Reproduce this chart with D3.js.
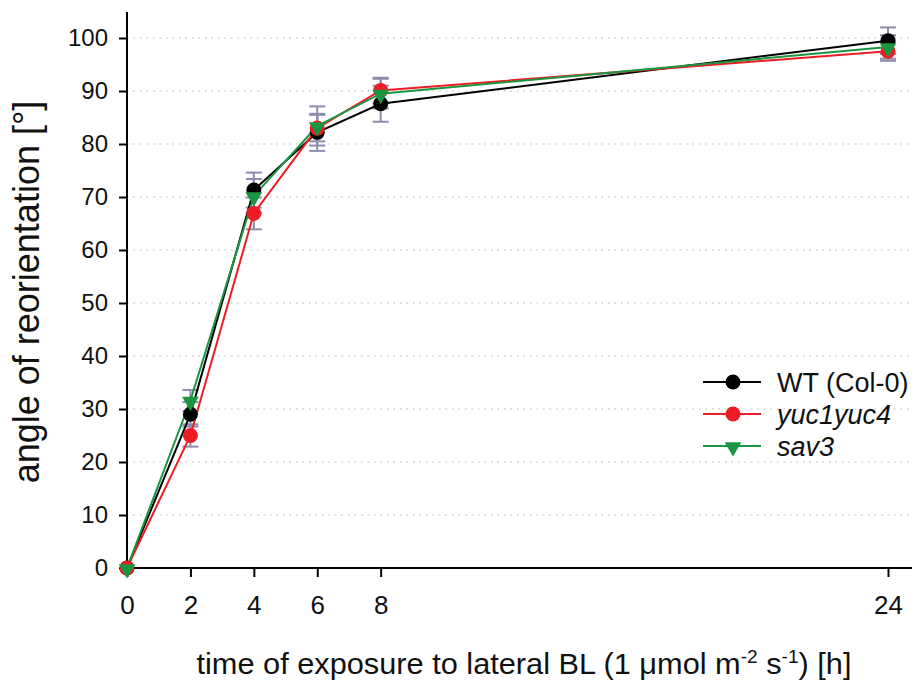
<!DOCTYPE html>
<html>
<head>
<meta charset="utf-8">
<script src="https://cdn.jsdelivr.net/npm/d3@7"></script>
<style>
  body { margin: 0; background: #fff; }
  text { font-family: "Liberation Sans", Arial, sans-serif; }
</style>
</head>
<body>
<div id="chart"></div>
<script>
// time points (h) and tick labels
const hours = [0, 2, 4, 6, 8, 24];
const xTicks = [0, 2, 4, 6, 8, 24];
const yTicks = [0, 10, 20, 30, 40, 50, 60, 70, 80, 90, 100];

// mean angle of reorientation
const wtValues = [0, 29.0, 71.3, 82.2, 87.6, 99.5];
const yucValues = [0, 25.0, 66.9, 83.0, 90.1, 97.5];
const sav3Values = [0, 31.6, 70.2, 83.4, 89.5, 98.3];

// error bars (+/-)
const wtErr = [0, 2.3, 3.3, 3.5, 3.4, 2.5];
const yucErr = [0, 2.1, 3.0, 2.5, 2.4, 1.8];
const sav3Err = [0, 2.0, 3.2, 3.7, 2.8, 2.2];

const seriesNames = ["WT (Col-0)", "yuc1yuc4", "sav3"];
const seriesColors = ["#000000", "#ee1c24", "#1a9641"];

const series = [
  { name: seriesNames[0], values: wtValues, err: wtErr, color: seriesColors[0], shape: "circle", italic: false },
  { name: seriesNames[1], values: yucValues, err: yucErr, color: seriesColors[1], shape: "circle", italic: true },
  { name: seriesNames[2], values: sav3Values, err: sav3Err, color: seriesColors[2], shape: "triangle", italic: true },
];

const margin = { top: 12, right: 3, bottom: 113, left: 127 },
  width = 915 - margin.left - margin.right,
  height = 681 - margin.top - margin.bottom;

const svg = d3
  .select("#chart")
  .append("svg")
  .attr("width", 915)
  .attr("height", 681)
  .append("g")
  .attr("transform", `translate(${margin.left},${margin.top})`);

const x = d3.scaleLinear().domain([0, 24]).range([0, 761]);
const y = d3.scaleLinear().domain([0, 100]).range([556, 26]);

// dotted grid
svg
  .append("g")
  .selectAll("line")
  .data(yTicks.slice(1))
  .join("line")
  .attr("x1", 0)
  .attr("x2", width)
  .attr("y1", (d) => y(d))
  .attr("y2", (d) => y(d))
  .attr("stroke", "#b8b8b8")
  .attr("stroke-width", 1.2)
  .attr("stroke-dasharray", "1.5,5");

// axes
const xAxis = svg
  .append("g")
  .attr("transform", `translate(0,${y(0)})`)
  .call(d3.axisBottom(x).tickValues(xTicks).tickSize(9).tickSizeOuter(0).tickPadding(18.5));
xAxis.select(".domain").attr("d", `M0,0H${width}`).attr("stroke-width", 2);
xAxis.selectAll(".tick line").attr("stroke-width", 2);
xAxis.selectAll("text").attr("font-size", 26).attr("fill", "#111");

const yAxis = svg.append("g").call(d3.axisLeft(y).tickValues(yTicks).tickSize(8).tickSizeOuter(0).tickPadding(11));
yAxis.select(".domain").attr("d", `M0,0V${y(0)}`).attr("stroke-width", 2);
yAxis.selectAll(".tick line").attr("stroke-width", 2);
yAxis.selectAll("text").attr("font-size", 24).attr("fill", "#111");

// axis titles
svg
  .append("text")
  .attr("transform", "rotate(-90)")
  .attr("x", -280)
  .attr("y", -88)
  .attr("text-anchor", "middle")
  .attr("font-size", 36)
  .attr("fill", "#111")
  .text("angle of reorientation [°]");

const xt = svg
  .append("text")
  .attr("x", 397)
  .attr("y", 662)
  .attr("text-anchor", "middle")
  .attr("font-size", 29)
  .attr("fill", "#111")
  .attr("textLength", 655)
  .attr("lengthAdjust", "spacingAndGlyphs");
xt.append("tspan").text("time of exposure to lateral BL (1 μmol m");
xt.append("tspan").attr("dy", -11).attr("font-size", 18).text("-2");
xt.append("tspan").attr("dy", 11).text(" s");
xt.append("tspan").attr("dy", -11).attr("font-size", 18).text("-1");
xt.append("tspan").attr("dy", 11).text(") [h]");

// error bars
const errColor = "#8c8cae";
series.forEach((s) => {
  const g = svg.append("g");
  const pts = hours.map((h, i) => ({ h, v: s.values[i], e: s.err[i] })).filter((d) => d.e > 0);
  g.selectAll(".ev")
    .data(pts)
    .join("line")
    .attr("x1", (d) => x(d.h))
    .attr("x2", (d) => x(d.h))
    .attr("y1", (d) => y(d.v - d.e))
    .attr("y2", (d) => y(d.v + d.e))
    .attr("stroke", errColor)
    .attr("stroke-width", 2);
  [-1, 1].forEach((sign) => {
    g.selectAll(".cap" + sign)
      .data(pts)
      .join("line")
      .attr("x1", (d) => x(d.h) - 8)
      .attr("x2", (d) => x(d.h) + 8)
      .attr("y1", (d) => y(d.v + sign * d.e))
      .attr("y2", (d) => y(d.v + sign * d.e))
      .attr("stroke", errColor)
      .attr("stroke-width", 2);
  });
});

// lines
const line = d3
  .line()
  .x((d) => x(d[0]))
  .y((d) => y(d[1]));

series.forEach((s) => {
  svg
    .append("path")
    .datum(hours.map((h, i) => [h, s.values[i]]))
    .attr("fill", "none")
    .attr("stroke", s.color)
    .attr("stroke-width", 2)
    .attr("d", line);
});

// markers
const tri = d3.symbol().type(d3.symbolTriangle).size(120);
function drawMarker(g, s, cx, cy) {
  if (s.shape === "circle") {
    g.append("circle").attr("cx", cx).attr("cy", cy).attr("r", 7.5).attr("fill", s.color);
  } else {
    g.append("path")
      .attr("d", tri())
      .attr("transform", `translate(${cx},${cy + 1}) rotate(180)`)
      .attr("fill", s.color);
  }
}
series.forEach((s) => {
  const g = svg.append("g");
  hours.forEach((h, i) => drawMarker(g, s, x(h), y(s.values[i])));
});

// legend
const legend = svg.append("g").attr("transform", "translate(576,370)");
series.forEach((s, i) => {
  const row = legend.append("g").attr("transform", `translate(0,${i * 32})`);
  row.append("line").attr("x1", 0).attr("x2", 58).attr("y1", 0).attr("y2", 0).attr("stroke", s.color).attr("stroke-width", 2);
  drawMarker(row, s, 30, 0);
  row
    .append("text")
    .attr("x", 74)
    .attr("y", 9.5)
    .attr("font-size", 27)
    .attr("fill", "#111")
    .style("font-style", s.italic ? "italic" : "normal")
    .text(s.name);
});
</script>
</body>
</html>
